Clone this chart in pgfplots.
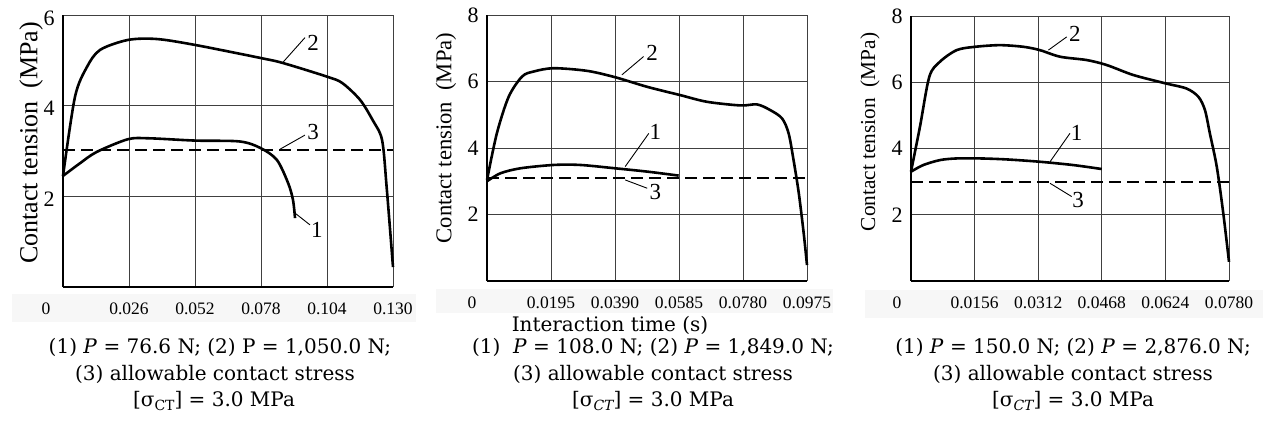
\documentclass[border=0pt]{standalone}
\usepackage{pgfplots}
\pgfplotsset{compat=1.18}
\usepackage{fontspec}
\setmainfont{Liberation Serif}
\newfontfamily\capfont{DejaVu Serif}
\newcommand\xtf{\fontsize{17.5}{20}\selectfont}
\newcommand\ytf{\fontsize{22}{24}\selectfont}
\newcommand\numf{\fontsize{23}{25}\selectfont}
\newcommand\capf{\capfont\fontsize{20}{25}\selectfont}
\newcommand\subf{\fontsize{14}{14}\selectfont}

\pgfplotsset{
  panel/.style={scale only axis, anchor=south west, xmin=0, ymin=0,
    axis lines*=left, axis line style={line width=1.8pt},
    grid=major, major grid style={line width=1pt, black!75},
    major tick length=0pt, clip=false, scaled x ticks=false, scaled y ticks=false,
    xticklabel style={font=\xtf, anchor=center, yshift=-22pt},
    yticklabel style={font=\ytf, anchor=center, xshift=-14pt},
    /pgf/number format/assume math mode=true},
  c/.style={line width=2.6pt, black, smooth},
  d/.style={line width=1.8pt, black, dash pattern=on 12pt off 6pt}
}
\tikzset{
  lead/.style={line width=0.9pt},
  num/.style={font=\numf, inner sep=0pt}
}

\begin{document}
\begin{tikzpicture}
\path[use as bounding box] (0pt,0pt) rectangle (1263pt,-446pt);
% faint bands behind tick labels
\fill[black!3] (12pt,-294pt) rectangle (416pt,-322pt);
\fill[black!3] (436pt,-289pt) rectangle (833pt,-313pt);
\fill[black!3] (865pt,-290pt) rectangle (1263pt,-318pt);

% ---------------- Panel 1 ----------------
\begin{axis}[panel, at={(63pt,-287pt)}, width=330pt, height=272pt,
  xmax=0.130, ymax=6,
  xtick={0.026,0.052,0.078,0.104,0.130},
  xticklabels={0.026,0.052,0.078,0.104,0.130},
  ytick={2,4,6}, yticklabel style={yshift=-3pt}]
\addplot[c] coordinates {(0,2.45) (0.0047,4.19) (0.0094,4.85) (0.0146,5.23)
  (0.0256,5.45) (0.037,5.47) (0.052,5.34) (0.078,5.05) (0.0867,4.94)
  (0.104,4.64) (0.110,4.50) (0.117,4.13) (0.122,3.68) (0.1257,3.24)
  (0.1275,2.2) (0.130,0.44)};
\addplot[c] coordinates {(0,2.45) (0.0067,2.73) (0.0133,2.98) (0.0256,3.26)
  (0.034,3.28) (0.052,3.23) (0.0697,3.21) (0.078,3.06) (0.0843,2.80)
  (0.0887,2.29) (0.0906,1.92) (0.0914,1.52)};
\addplot[d] coordinates {(0,3.02) (0.130,3.02)};
\draw[lead] (axis cs:0.0867,4.96) -- (axis cs:0.0953,5.5);
\node[num] at (axis cs:0.0985,5.38) {2};
\draw[lead] (axis cs:0.0855,3.04) -- (axis cs:0.0953,3.35);
\node[num] at (axis cs:0.0985,3.42) {3};
\draw[lead] (axis cs:0.0914,1.63) -- (axis cs:0.0973,1.37);
\node[num] at (axis cs:0.100,1.26) {1};
\node[font=\xtf] at (rel axis cs:0,0) [xshift=-17pt, yshift=-22pt] {0};
\end{axis}

% ---------------- Panel 2 ----------------
\begin{axis}[panel, at={(487pt,-281pt)}, width=320pt, height=266pt,
  xmax=0.0975, ymax=8,
  xtick={0.0195,0.0390,0.0585,0.0780,0.0975},
  xticklabels={0.0195,0.0390,0.0585,0.0780,0.0975},
  ytick={2,4,6,8}]
\addplot[c] coordinates {(0,3.04) (0.003,4.44) (0.0066,5.54) (0.0107,6.15)
  (0.0142,6.30) (0.0203,6.40) (0.0305,6.32) (0.039,6.13) (0.0488,5.84)
  (0.0589,5.59) (0.067,5.39) (0.0772,5.28) (0.0823,5.31) (0.0863,5.14)
  (0.0899,4.89) (0.0919,4.44) (0.0934,3.64) (0.095,2.64) (0.0965,1.43)
  (0.0975,0.48)};
\addplot[c] coordinates {(0,3.0) (0.0041,3.24) (0.0102,3.39) (0.0203,3.49)
  (0.0284,3.49) (0.039,3.39) (0.0488,3.29) (0.0584,3.17)};
\addplot[d] coordinates {(0,3.09) (0.0975,3.09)};
\draw[lead] (axis cs:0.0411,6.20) -- (axis cs:0.0477,6.75);
\node[num] at (axis cs:0.0503,6.85) {2};
\draw[lead] (axis cs:0.0421,3.44) -- (axis cs:0.0493,4.44);
\node[num] at (axis cs:0.0513,4.49) {1};
\draw[lead] (axis cs:0.0421,3.04) -- (axis cs:0.0488,2.79);
\node[num] at (axis cs:0.0513,2.69) {3};
\node[font=\xtf] at (rel axis cs:0,0) [xshift=-15pt, yshift=-22pt] {0};
\end{axis}

% ---------------- Panel 3 ----------------
\begin{axis}[panel, at={(911pt,-281pt)}, width=318pt, height=265pt,
  xmax=0.078, ymax=8,
  xtick={0.0156,0.0312,0.0468,0.0624,0.0780},
  xticklabels={0.0156,0.0312,0.0468,0.0624,0.0780},
  ytick={2,4,6,8}]
\addplot[c] coordinates {(0,3.30) (0.0022,4.66) (0.0045,6.17) (0.0071,6.62)
  (0.0112,6.97) (0.0157,7.07) (0.0218,7.12) (0.0276,7.07) (0.0316,6.97)
  (0.0366,6.77) (0.0431,6.67) (0.048,6.52) (0.0545,6.22) (0.0623,5.97)
  (0.0676,5.81) (0.0705,5.56) (0.0721,5.16) (0.0733,4.46) (0.075,3.45)
  (0.0766,2.04) (0.078,0.58)};
\addplot[c] coordinates {(0,3.30) (0.003,3.50) (0.0071,3.65) (0.0112,3.70)
  (0.017,3.70) (0.0235,3.67) (0.0316,3.60) (0.0398,3.50) (0.0468,3.38)};
\addplot[d] coordinates {(0,3.0) (0.078,3.0)};
\draw[lead] (axis cs:0.0337,6.97) -- (axis cs:0.0382,7.37);
\node[num] at (axis cs:0.0402,7.47) {2};
\draw[lead] (axis cs:0.0341,3.60) -- (axis cs:0.039,4.46);
\node[num] at (axis cs:0.0406,4.46) {1};
\draw[lead] (axis cs:0.0341,2.95) -- (axis cs:0.0394,2.55);
\node[num] at (axis cs:0.041,2.44) {3};
\node[font=\xtf] at (rel axis cs:0,0) [xshift=-14pt, yshift=-22pt] {0};
\end{axis}

% y labels
\node[rotate=90, font=\fontsize{26}{26}\selectfont] at (31pt,-143pt) {Contact tension\ \ (MPa)};
\node[rotate=90, font=\fontsize{22.6}{24}\selectfont] at (446pt,-138pt) {Contact tension\ \ (MPa)};
\node[rotate=90, font=\fontsize{21.3}{24}\selectfont] at (870pt,-132pt) {Contact tension\ \ (MPa)};

% captions
\node[font=\capf, anchor=base] at (610pt,-331pt) {Interaction time (s)};

\node[font=\capf, anchor=base] at (220pt,-353pt) {(1) \textit{P} = 76.6 N; (2) P = 1,050.0 N;};
\node[font=\capf, anchor=base] at (215pt,-380pt) {(3) allowable contact stress};
\node[font=\capf, anchor=base] at (214pt,-406pt) {[σ\raisebox{-0.45ex}{\subf CT}] = 3.0 MPa};

\node[font=\capf, anchor=base] at (653pt,-353pt) {(1)\ \ \textit{P} = 108.0 N; (2) \textit{P} = 1,849.0 N;};
\node[font=\capf, anchor=base] at (653pt,-380pt) {(3) allowable contact stress};
\node[font=\capf, anchor=base] at (653pt,-406pt) {[σ\raisebox{-0.45ex}{\subf\itshape CT}] = 3.0 MPa};

\node[font=\capf, anchor=base] at (1073pt,-353pt) {(1) \textit{P} = 150.0 N; (2) \textit{P} = 2,876.0 N;};
\node[font=\capf, anchor=base] at (1073pt,-380pt) {(3) allowable contact stress};
\node[font=\capf, anchor=base] at (1073pt,-406pt) {[σ\raisebox{-0.45ex}{\subf\itshape CT}] = 3.0 MPa};
\end{tikzpicture}
\end{document}
